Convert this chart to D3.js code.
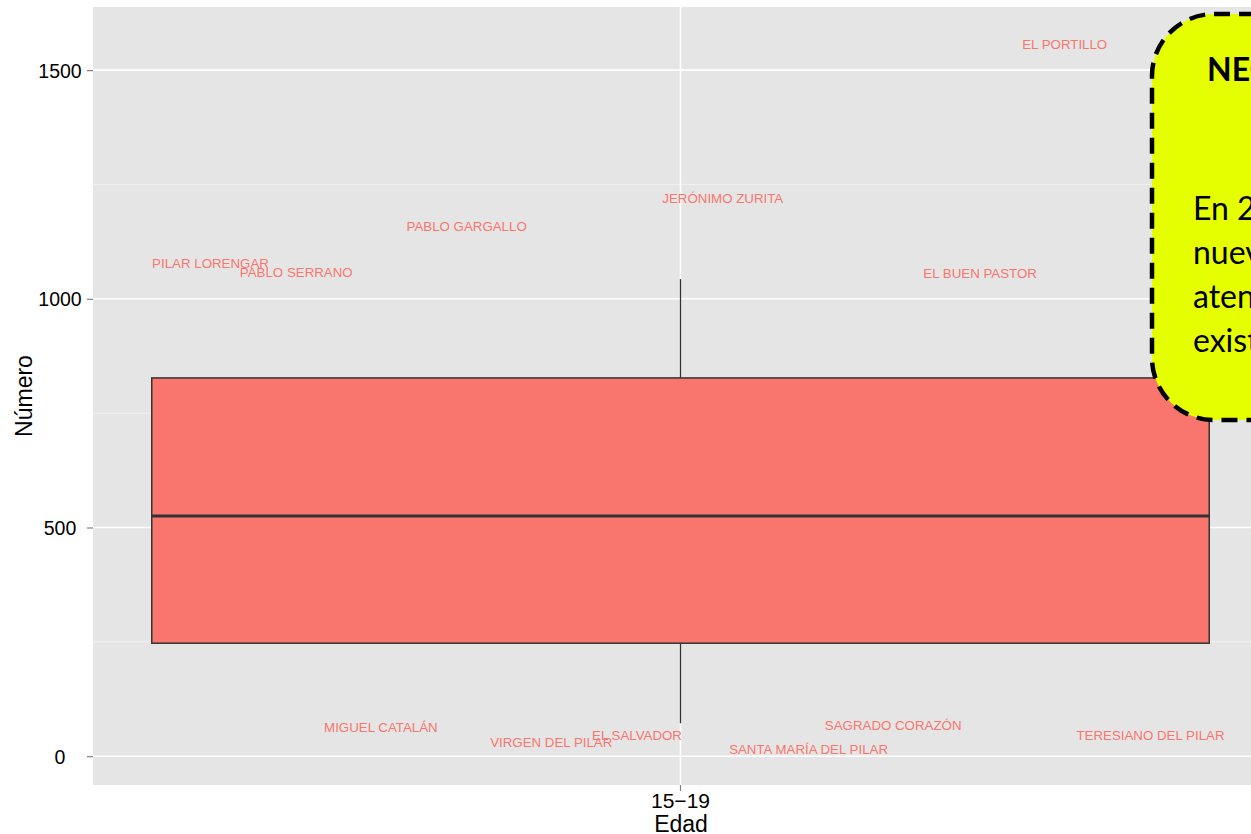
<!DOCTYPE html>
<html>
<head>
<meta charset="utf-8">
<script src="https://cdn.jsdelivr.net/npm/d3@7"></script>
<style>
  html, body { margin: 0; padding: 0; background: #fff; overflow: hidden; }
  svg { display: block; }
</style>
</head>
<body>
<svg id="chart" width="1251" height="834"></svg>
<script>
// ---- data ----
const categories = ["15−19"];
const boxStats = [{ cat: "15−19", lower: 72, q1: 247, median: 525, q3: 827, upper: 1043 }];
const labelNames = ["EL PORTILLO", "JERÓNIMO ZURITA", "PABLO GARGALLO", "PILAR LORENGAR", "PABLO SERRANO",
  "EL BUEN PASTOR", "MIGUEL CATALÁN", "VIRGEN DEL PILAR", "EL SALVADOR", "SANTA MARÍA DEL PILAR",
  "SAGRADO CORAZÓN", "TERESIANO DEL PILAR"];
const labelValues = [1557, 1220, 1157, 1078, 1058, 1056, 63, 31, 46, 15, 68, 46];
const labelJitter = [1.327, 1.036, 0.818, 0.600, 0.673, 1.255, 0.745, 0.890, 0.963, 1.109, 1.181, 1.400];
const yTicks = [0, 500, 1000, 1500];
const yMinor = [250, 750, 1250];
const calloutTitle = "NECESIDADES";
const calloutLines = ["En 2014 se necesitan", "nuevos centros para", "atender la demanda", "existente"];

// ---- layout ----
const svg = d3.select("#chart");
const panel = { left: 93, top: 7, right: 1268, bottom: 785 };

const x = d3.scaleBand().domain(categories).range([panel.left, panel.right]).paddingInner(0).paddingOuter(0);
const xj = d3.scaleLinear().domain([0.5, 1.5]).range([panel.left, panel.right]);
const y = d3.scaleLinear().domain([-63, 1638]).range([panel.bottom, panel.top]);

// panel background
svg.append("rect")
  .attr("x", panel.left).attr("y", panel.top)
  .attr("width", panel.right - panel.left).attr("height", panel.bottom - panel.top)
  .attr("fill", "#e5e5e5");

// minor grid
svg.append("g").selectAll("line").data(yMinor).join("line")
  .attr("x1", panel.left).attr("x2", panel.right)
  .attr("y1", d => y(d)).attr("y2", d => y(d))
  .attr("stroke", "#f2f2f2").attr("stroke-width", 1);

// major grid
svg.append("g").selectAll("line").data(yTicks).join("line")
  .attr("x1", panel.left).attr("x2", panel.right)
  .attr("y1", d => y(d)).attr("y2", d => y(d))
  .attr("stroke", "#ffffff").attr("stroke-width", 1.6);
svg.append("g").selectAll("line").data(categories).join("line")
  .attr("x1", d => x(d) + x.bandwidth() / 2).attr("x2", d => x(d) + x.bandwidth() / 2)
  .attr("y1", panel.top).attr("y2", panel.bottom)
  .attr("stroke", "#ffffff").attr("stroke-width", 1.6);

// boxplot
const bw = x.bandwidth() * 0.9;
const boxG = svg.append("g");
boxStats.forEach(s => {
  const cx = x(s.cat) + x.bandwidth() / 2;
  boxG.append("line").attr("x1", cx).attr("x2", cx).attr("y1", y(s.upper)).attr("y2", y(s.q3))
    .attr("stroke", "#333").attr("stroke-width", 1.3);
  boxG.append("line").attr("x1", cx).attr("x2", cx).attr("y1", y(s.q1)).attr("y2", y(s.lower))
    .attr("stroke", "#333").attr("stroke-width", 1.3);
  boxG.append("rect").attr("x", cx - bw / 2).attr("width", bw)
    .attr("y", y(s.q3)).attr("height", y(s.q1) - y(s.q3))
    .attr("fill", "#F8766D").attr("stroke", "#333").attr("stroke-width", 1.5);
  boxG.append("line").attr("x1", cx - bw / 2).attr("x2", cx + bw / 2)
    .attr("y1", y(s.median)).attr("y2", y(s.median))
    .attr("stroke", "#333").attr("stroke-width", 3);
});

// labels
const labels = labelNames.map((n, i) => ({ name: n, v: labelValues[i], j: labelJitter[i] }));
svg.append("g").selectAll("text").data(labels).join("text")
  .attr("x", d => xj(d.j)).attr("y", d => y(d.v))
  .attr("text-anchor", "middle").attr("dominant-baseline", "central")
  .attr("font-family", "'Liberation Sans', Arial, sans-serif")
  .attr("font-size", 13.3).attr("fill", "#F8766D")
  .text(d => d.name);

// y axis
const yAxis = svg.append("g").attr("transform", `translate(${panel.left},0)`)
  .call(d3.axisLeft(y).tickValues(yTicks).tickSize(6).tickPadding(0).tickFormat(d3.format("d")));
yAxis.select(".domain").remove();
yAxis.selectAll(".tick line").attr("stroke", "#7f7f7f").attr("stroke-width", 1.2);
yAxis.selectAll(".tick text")
  .attr("x", 60 - panel.left).attr("text-anchor", "middle").attr("dy", "0.36em")
  .attr("font-family", "'Liberation Sans', Arial, sans-serif").attr("font-size", 19.5).attr("fill", "#000");

// x axis
const xAxis = svg.append("g").attr("transform", `translate(0,${panel.bottom})`)
  .call(d3.axisBottom(x).tickSize(6).tickPadding(2));
xAxis.select(".domain").remove();
xAxis.selectAll(".tick line").attr("stroke", "#7f7f7f").attr("stroke-width", 1.2);
xAxis.selectAll(".tick text")
  .attr("font-family", "'Liberation Sans', Arial, sans-serif").attr("font-size", 21).attr("fill", "#000");

// axis titles
svg.append("text").attr("x", 681).attr("y", 832)
  .attr("text-anchor", "middle")
  .attr("font-family", "'Liberation Sans', Arial, sans-serif").attr("font-size", 23).attr("fill", "#000")
  .text("Edad");
svg.append("text").attr("transform", "translate(32,396) rotate(-90)")
  .attr("text-anchor", "middle")
  .attr("font-family", "'Liberation Sans', Arial, sans-serif").attr("font-size", 23).attr("fill", "#000")
  .text("Número");

// callout
const cg = svg.append("g");
cg.append("rect").attr("x", 1152).attr("y", 14).attr("width", 260).attr("height", 406).attr("rx", 62).attr("ry", 62)
  .attr("fill", "#E6FF00").attr("stroke", "#000").attr("stroke-width", 4.5).attr("stroke-dasharray", "16,9");
cg.append("text").attr("x", 1207).attr("y", 81)
  .attr("font-family", "Lato, 'Open Sans', sans-serif").attr("font-weight", "bold").attr("font-size", 32).attr("fill", "#000")
  .text(calloutTitle);
cg.selectAll("text.line").data(calloutLines).join("text").attr("class", "line")
  .attr("x", 1193).attr("y", (d, i) => 220 + i * 44)
  .attr("font-family", "Lato, 'Open Sans', sans-serif").attr("font-size", 32).attr("fill", "#000")
  .text(d => d);
</script>
</body>
</html>
